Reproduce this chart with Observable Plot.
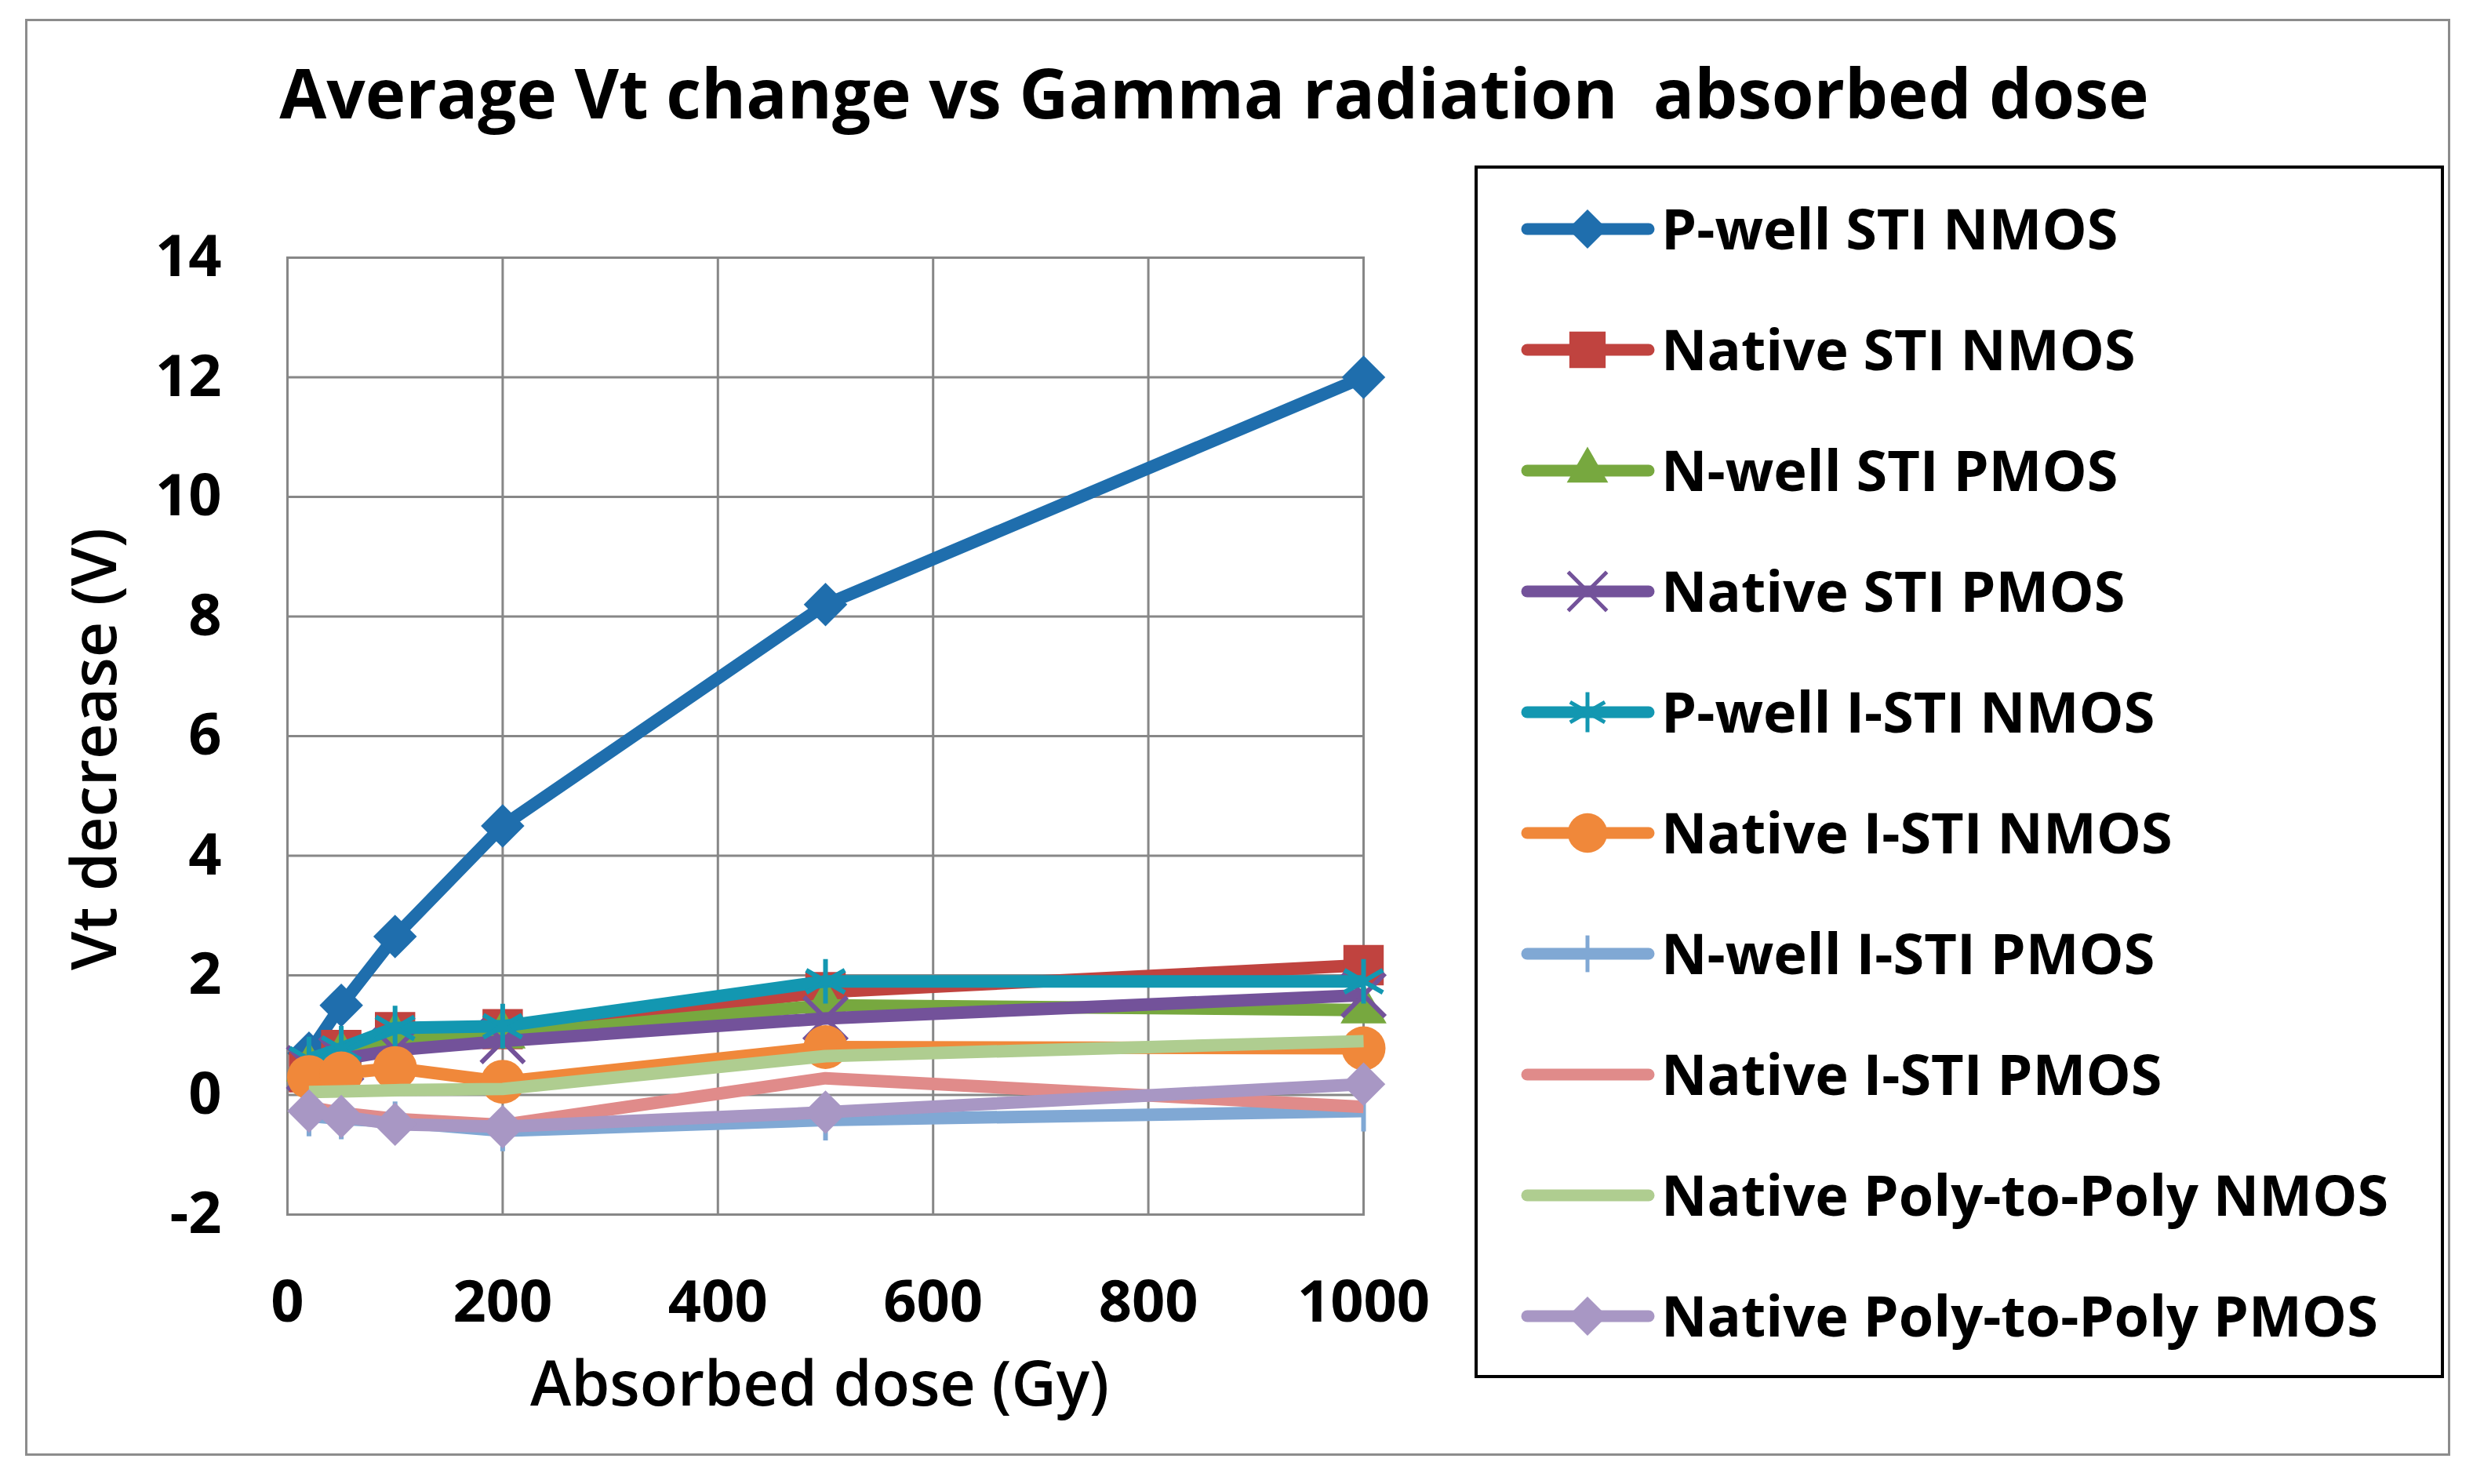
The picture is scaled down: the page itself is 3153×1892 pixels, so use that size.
<!DOCTYPE html>
<html><head><meta charset="utf-8">
<script src="https://cdn.jsdelivr.net/npm/d3@7"></script>
<script src="https://cdn.jsdelivr.net/npm/@observablehq/plot@0.6"></script>
<style>
body{margin:0;background:#fff;}
#chart{position:relative;width:3153px;height:1892px;font-family:"Open Sans",sans-serif;color:#000;overflow:hidden;}
#frame{position:absolute;left:32px;top:24px;width:3092px;height:1832px;border:3px solid #8c8c8c;box-sizing:border-box;}
#title{position:absolute;left:0;width:3096px;top:74px;text-align:center;font-weight:700;font-size:87px;line-height:1;white-space:pre;}
#plot{position:absolute;left:0;top:0;}
#xtitle{position:absolute;left:545px;width:1000px;top:1722px;text-align:center;font-weight:600;font-size:79px;line-height:1;}
#ytitle{position:absolute;left:117px;top:955px;transform:translate(-50%,-50%) rotate(-90deg);font-weight:600;font-size:79px;line-height:1;white-space:nowrap;}
#legend{position:absolute;left:1880px;top:211px;width:1236px;height:1546px;border:4px solid #000;box-sizing:border-box;background:#fff;}
</style></head><body><div id="chart"><div id="frame"></div><div id="title"></div><div id="plot"></div><div id="xtitle"></div><div id="ytitle"></div><div id="legend"></div></div>
<script>
// ---- data ----
const doses = [20, 50, 100, 200, 500, 1000];
const seriesNames = [
  "P-well STI NMOS", "Native STI NMOS", "N-well STI PMOS", "Native STI PMOS",
  "P-well I-STI NMOS", "Native I-STI NMOS", "N-well I-STI PMOS", "Native I-STI PMOS",
  "Native Poly-to-Poly NMOS", "Native Poly-to-Poly PMOS"
];
const pwellStiNmos      = [0.70, 1.50, 2.65, 4.50, 8.20, 12.00];
const nativeStiNmos     = [0.38, 0.75, 1.05, 1.10, 1.72, 2.17];
const nwellStiPmos      = [0.45, 0.65, 0.95, 1.00, 1.50, 1.42];
const nativeStiPmos     = [0.45, 0.60, 0.75, 0.90, 1.28, 1.67];
const pwellIstiNmos     = [0.60, 0.78, 1.12, 1.15, 1.90, 1.90];
const nativeIstiNmos    = [0.30, 0.36, 0.45, 0.22, 0.80, 0.78];
const nwellIstiPmos     = [-0.35, -0.40, -0.45, -0.60, -0.42, -0.27];
const nativeIstiPmos    = [-0.20, -0.30, -0.40, -0.50, 0.28, -0.20];
const nativePolyNmos    = [0.05, 0.06, 0.08, 0.10, 0.65, 0.90];
const nativePolyPmos    = [-0.27, -0.36, -0.49, -0.53, -0.29, 0.18];
const xTicks = [0, 200, 400, 600, 800, 1000];
const yTicks = [-2, 0, 2, 4, 6, 8, 10, 12, 14];
const titleText = "Average Vt change vs Gamma radiation  absorbed dose";
const xLabel = "Absorbed dose (Gy)";
const yLabel = "Vt decrease (V)";

// ---- styles ----
const seriesValues = [pwellStiNmos, nativeStiNmos, nwellStiPmos, nativeStiPmos, pwellIstiNmos,
  nativeIstiNmos, nwellIstiPmos, nativeIstiPmos, nativePolyNmos, nativePolyPmos];
const colors = ["#1f6ead", "#c0433f", "#77a83f", "#73529a", "#1397b1",
  "#f0883a", "#80a8d4", "#e08b8a", "#afcd90", "#a897c4"];
const vtick = {draw(context, size) { const r = Math.sqrt(size / Math.PI); context.moveTo(0, -r); context.lineTo(0, r); }};
const symbols = ["diamond2", "square", "triangle2", "times", "asterisk", "circle", "vtick", null, null, "diamond2"];
const radii = {diamond2: 25, square: 29, triangle2: 28, times: 25, asterisk: 27, circle: 28, vtick: 26};
const strokeSyms = new Set(["times", "asterisk", "vtick"]);
const symObj = {diamond2: d3.symbolDiamond2, square: d3.symbolSquare, triangle2: d3.symbolTriangle2,
  times: d3.symbolTimes, asterisk: d3.symbolAsterisk, circle: d3.symbolCircle, vtick};

const table = [];
seriesNames.forEach((s, i) => doses.forEach((d, j) => table.push({series: s, dose: d, v: seriesValues[i][j]})));

document.getElementById("title").textContent = titleText;
document.getElementById("xtitle").textContent = xLabel;
document.getElementById("ytitle").textContent = yLabel;

const fmt = d => String(d).replace("\u2212", "-");
const marks = [
  Plot.gridX(xTicks, {stroke: "#878787", strokeOpacity: 1, strokeWidth: 3}),
  Plot.gridY(yTicks, {stroke: "#878787", strokeOpacity: 1, strokeWidth: 3}),
  Plot.frame({stroke: "#878787", strokeWidth: 3}),
  Plot.axisX(xTicks, {tickSize: 0, tickPadding: 84, label: null, tickFormat: fmt}),
  Plot.axisY(yTicks, {tickSize: 0, tickPadding: 84, label: null, tickFormat: fmt})
];
seriesNames.forEach((s, i) => {
  const rows = table.filter(r => r.series === s);
  marks.push(Plot.line(rows, {x: "dose", y: "v", stroke: colors[i], strokeWidth: 16, strokeLinejoin: "round", strokeLinecap: "butt"}));
  const sym = symbols[i];
  if (sym) {
    if (strokeSyms.has(sym)) {
      marks.push(Plot.dot(rows, {x: "dose", y: "v", symbol: symObj[sym], r: radii[sym], stroke: colors[i], strokeWidth: 6, fill: "none"}));
    } else {
      marks.push(Plot.dot(rows, {x: "dose", y: "v", symbol: symObj[sym], r: radii[sym], fill: colors[i], stroke: "none"}));
    }
  }
});

const chart = Plot.plot({
  width: 1860, height: 1800,
  marginLeft: 366, marginRight: 122, marginTop: 328, marginBottom: 252,
  x: {domain: [0, 1000]},
  y: {domain: [-2, 14]},
  style: {fontFamily: "'Open Sans', sans-serif", fontSize: "74px", fontWeight: "bold", color: "#000", background: "transparent", overflow: "visible"},
  marks
});
document.getElementById("plot").appendChild(chart);

// ---- legend ----
const lg = d3.select("#legend").append("svg").attr("width", 1228).attr("height", 1538).style("display", "block");
seriesNames.forEach((s, i) => {
  const cy = 77 + i * 154;
  const g = lg.append("g").attr("transform", `translate(0,${cy})`);
  g.append("line").attr("x1", 63).attr("x2", 218).attr("y1", 0).attr("y2", 0)
    .attr("stroke", colors[i]).attr("stroke-width", 15).attr("stroke-linecap", "round");
  const sym = symbols[i];
  if (sym) {
    const rr = radii[sym] * 0.9;
    const p = d3.symbol(symObj[sym], Math.PI * rr * rr)();
    const path = g.append("path").attr("d", p).attr("transform", "translate(140,0)");
    if (strokeSyms.has(sym)) path.attr("fill", "none").attr("stroke", colors[i]).attr("stroke-width", 5);
    else path.attr("fill", colors[i]);
  }
  g.append("text").attr("x", 234).attr("y", 0).attr("dy", "0.36em")
    .attr("font-family", "'Open Sans', sans-serif").attr("font-weight", 700).attr("font-size", 72)
    .text(s);
});
</script></body></html>
